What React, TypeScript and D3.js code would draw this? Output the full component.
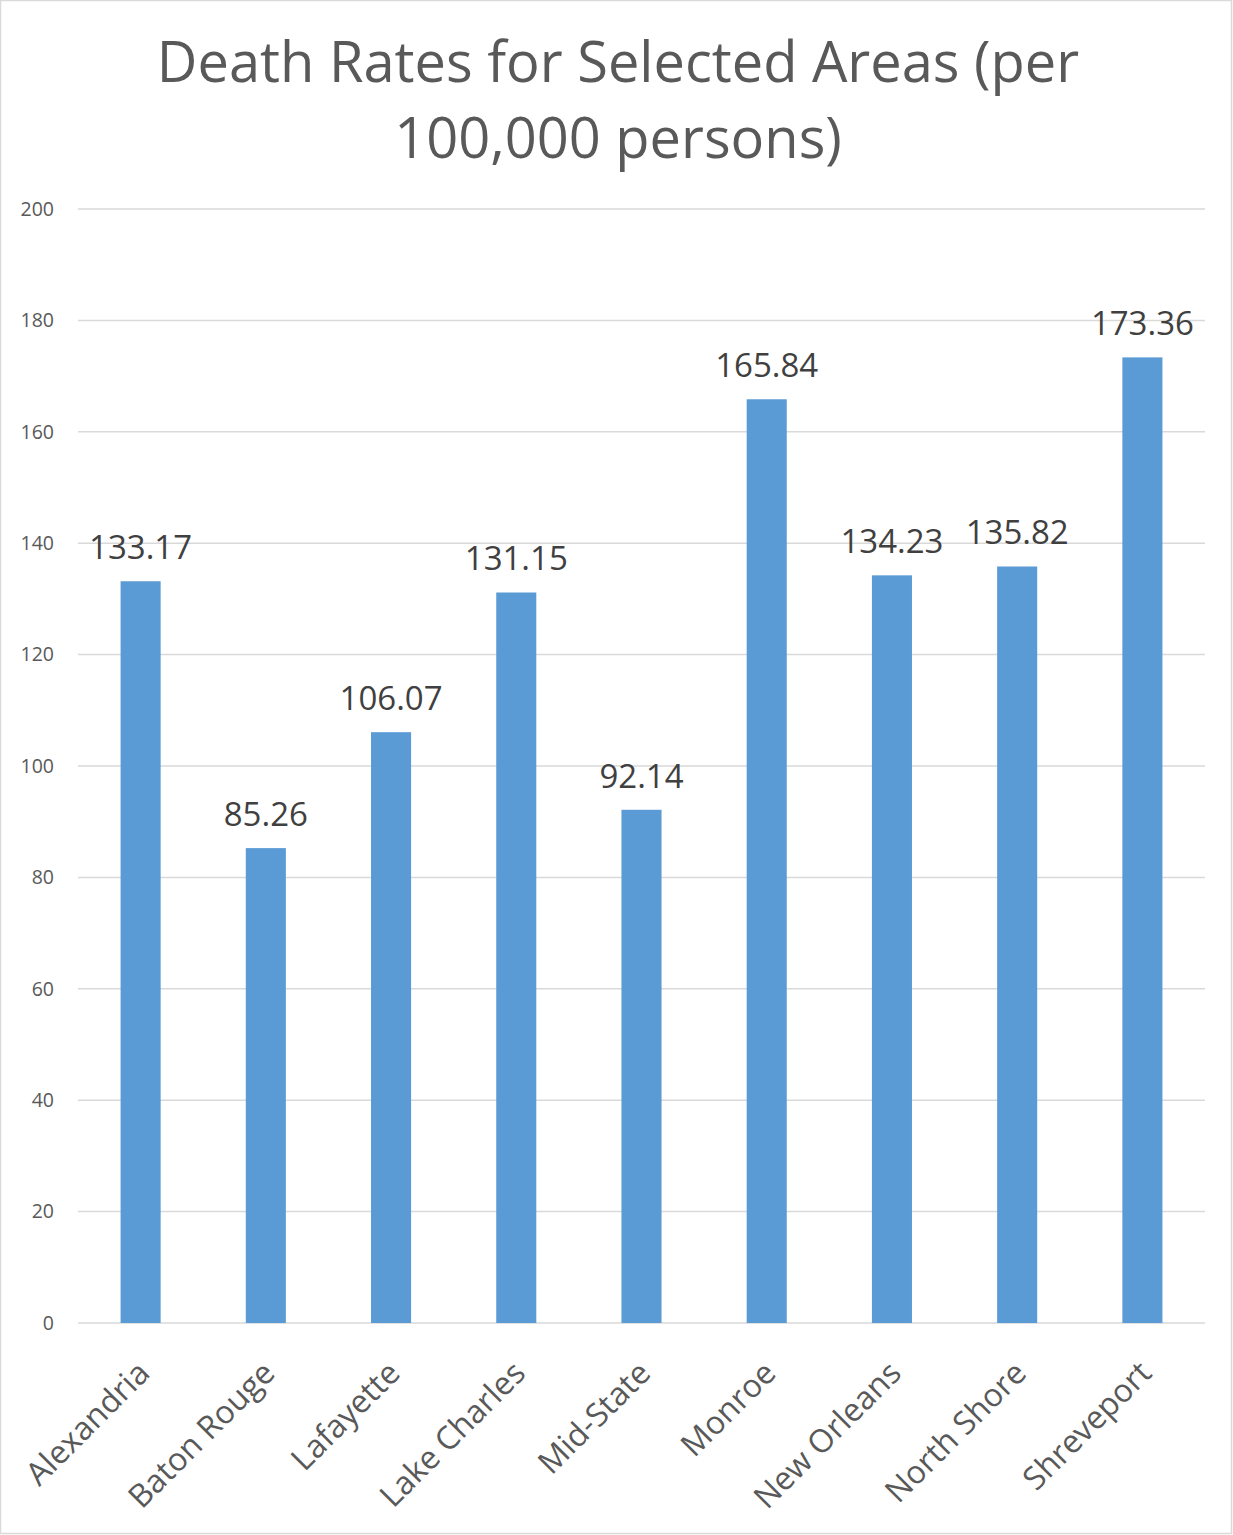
import React from "react";
import * as d3 from "d3";

const categories = ["Alexandria","Baton Rouge","Lafayette","Lake Charles","Mid-State","Monroe","New Orleans","North Shore","Shreveport"];
const values = [133.17, 85.26, 106.07, 131.15, 92.14, 165.84, 134.23, 135.82, 173.36];
const yTicks = [0, 20, 40, 60, 80, 100, 120, 140, 160, 180, 200];
const titleLines = ["Death Rates for Selected Areas (per", "100,000 persons)"];

const W = 1233, H = 1535;
const left = 78, right = 1205, top = 209, bottom = 1323;
const FONT = "'Open Sans', 'Noto Sans', sans-serif";

export default function App() {
  const x = d3.scaleBand<string>().domain(categories).range([left, right]).paddingInner(0.68).paddingOuter(0.34);
  const y = d3.scaleLinear().domain([0, 200]).range([bottom, top]);
  return (
    <svg width={W} height={H} style={{ position: "fixed", left: 0, top: 0, background: "#fff" }} fontFamily={FONT}>
      <rect x={0.5} y={0.5} width={W - 2} height={H - 2} fill="#fff" stroke="#d9d9d9" strokeWidth={1.5} />
      {titleLines.map((t, i) => (
        <text key={i} x={618} y={82 + i * 76} textAnchor="middle" fontSize={56} fill="#595959">{t}</text>
      ))}
      {yTicks.map(t => (
        <g key={t}>
          <line x1={left} x2={right} y1={y(t)} y2={y(t)} stroke="#d9d9d9" strokeWidth={1.5} />
          <text x={54} y={y(t)} dy="0.35em" textAnchor="end" fontSize={19.5} fill="#595959">{t}</text>
        </g>
      ))}
      {categories.map((c, i) => {
        const bx = x(c)!;
        const cx = bx + x.bandwidth() / 2;
        return (
          <g key={c}>
            <rect x={bx} y={y(values[i])} width={x.bandwidth()} height={bottom - y(values[i])} fill="#5b9bd5" />
            <text x={cx} y={y(values[i]) - 22} textAnchor="middle" fontSize={33} fill="#404040">{values[i].toFixed(2)}</text>
            <text transform={`translate(${cx - 6},${1358}) rotate(-45)`} dy="0.75em" textAnchor="end" fontSize={32} fill="#595959">{c}</text>
          </g>
        );
      })}
    </svg>
  );
}
